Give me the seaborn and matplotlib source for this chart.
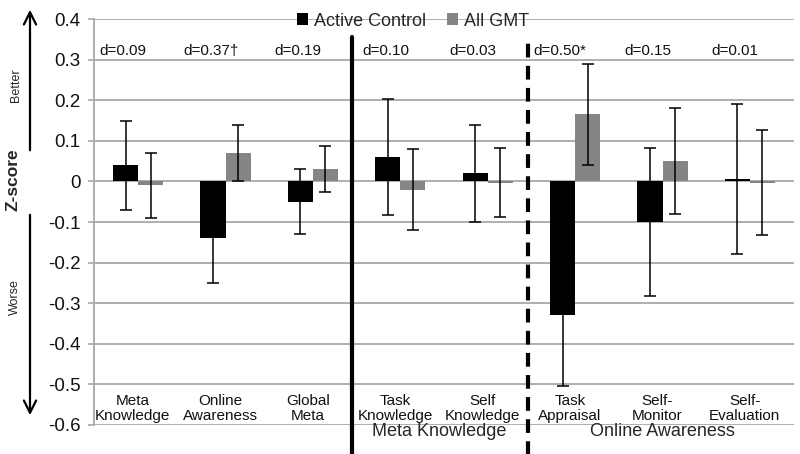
import numpy as np
import pandas as pd
import matplotlib
matplotlib.use("Agg")
import matplotlib.pyplot as plt
import seaborn as sns

categories = ["Meta\nKnowledge", "Online\nAwareness", "Global\nMeta", "Task\nKnowledge",
              "Self\nKnowledge", "Task\nAppraisal", "Self-\nMonitor", "Self-\nEvaluation"]
series = ["Active Control", "All GMT"]
active_control = [0.04, -0.14, -0.05, 0.06, 0.02, -0.33, -0.10, 0.005]
active_control_err = [0.11, 0.11, 0.08, 0.143, 0.12, 0.175, 0.182, 0.185]
all_gmt = [-0.01, 0.07, 0.03, -0.02, -0.003, 0.165, 0.05, -0.003]
all_gmt_err = [0.08, 0.07, 0.057, 0.10, 0.085, 0.125, 0.13, 0.13]
d_labels = ["d=0.09", "d=0.37\u2020", "d=0.19", "d=0.10", "d=0.03", "d=0.50*", "d=0.15", "d=0.01"]
group_labels = ["Meta Knowledge", "Online Awareness"]
yticks = [0.4, 0.3, 0.2, 0.1, 0, -0.1, -0.2, -0.3, -0.4, -0.5, -0.6]
ytick_labels = ["0.4", "0.3", "0.2", "0.1", "0", "-0.1", "-0.2", "-0.3", "-0.4", "-0.5", "-0.6"]

df = pd.DataFrame({
    "category": categories * 2,
    "series": [series[0]] * len(categories) + [series[1]] * len(categories),
    "value": active_control + all_gmt,
    "err": active_control_err + all_gmt_err,
})

sns.set_style("white")
plt.rcParams["font.family"] = ["Liberation Sans", "DejaVu Sans"]

fig = plt.figure(figsize=(8, 4.54), dpi=100)
ax = fig.add_axes([0.118, 0.064, 0.874, 0.894])

palette = {"Active Control": "#000000", "All GMT": "#858585"}
sns.barplot(data=df, x="category", y="value", hue="series", order=categories,
            hue_order=series, palette=palette, width=0.575, errorbar=None,
            saturation=1, ax=ax, zorder=3, legend=True, linewidth=0)

# error bars at the drawn bar positions
bars = [p for p in ax.patches if p.get_width() > 0]
errs = active_control_err + all_gmt_err
vals = active_control + all_gmt
for p, v, e in zip(bars, vals, errs):
    xc = p.get_x() + p.get_width() / 2
    ax.errorbar(xc, v, yerr=e, fmt="none", ecolor="black", elinewidth=1.1,
                capsize=4, capthick=1.1, zorder=4)

ax.set_ylim(-0.6, 0.4)
ax.set_xlim(-0.5, len(categories) - 0.5)
ax.set_yticks(yticks)
ax.set_yticklabels(ytick_labels, fontsize=13.5, color="#111111")
ax.yaxis.grid(True, color="#a8a8a8", lw=1.3, zorder=0)
ax.set_axisbelow(True)
ax.tick_params(axis="y", length=4, color="#a8a8a8", width=1.2, pad=6, left=True)
ax.set_xticks([])
ax.set_xlabel("")
ax.set_ylabel("")
for s in ["top", "right", "bottom"]:
    ax.spines[s].set_visible(False)
ax.spines["left"].set_color("#a8a8a8")
ax.spines["left"].set_linewidth(1.3)

# category labels inside the plot
for i, c in enumerate(categories):
    ax.text(i - 0.06, -0.56, c, ha="center", va="center", fontsize=11,
            linespacing=1.05, color="#111111")
    ax.text(i - 0.17, 0.322, d_labels[i], ha="center", va="center", fontsize=11,
            color="#111111")

# separators
ax.plot([2.45, 2.45], [-0.68, 0.355], color="black", lw=3, clip_on=False, zorder=5)
ax.plot([4.46, 4.46], [-0.68, 0.355], color="black", lw=3, clip_on=False, zorder=5,
        linestyle=(0, (3.3, 2)))

ax.text(3.45, -0.617, group_labels[0], ha="center", va="center", fontsize=13,
        clip_on=False)
ax.text(6.0, -0.617, group_labels[1], ha="center", va="center", fontsize=13,
        clip_on=False)

# legend
handles, labels = ax.get_legend_handles_labels()
leg = ax.legend(handles, labels, loc="center", bbox_to_anchor=(413 / 800, 1 - 21 / 454),
                bbox_transform=fig.transFigure, ncol=2, frameon=False, fontsize=13,
                handlelength=0.6, handleheight=0.6, handletextpad=0.3, columnspacing=1.2)

# side annotations
fig.text(13 / 800, 1 - 180 / 454, "Z-score", rotation=90, ha="center", va="center",
         fontsize=12.5, fontweight="bold")
fig.text(16 / 800, 1 - 85 / 454, "Better", rotation=90, ha="center", va="center",
         fontsize=9)
fig.text(15 / 800, 1 - 297 / 454, "Worse", rotation=90, ha="center", va="center",
         fontsize=9)
ax.annotate("", xy=(30 / 800, 1 - 7 / 454), xytext=(30 / 800, 1 - 153 / 454),
            xycoords="figure fraction", textcoords="figure fraction",
            arrowprops=dict(arrowstyle="->", lw=1.6, color="black", mutation_scale=22))
ax.annotate("", xy=(30 / 800, 1 - 418 / 454), xytext=(30 / 800, 1 - 212 / 454),
            xycoords="figure fraction", textcoords="figure fraction",
            arrowprops=dict(arrowstyle="->", lw=1.6, color="black", mutation_scale=22))

fig.savefig("out.png", dpi=100)
